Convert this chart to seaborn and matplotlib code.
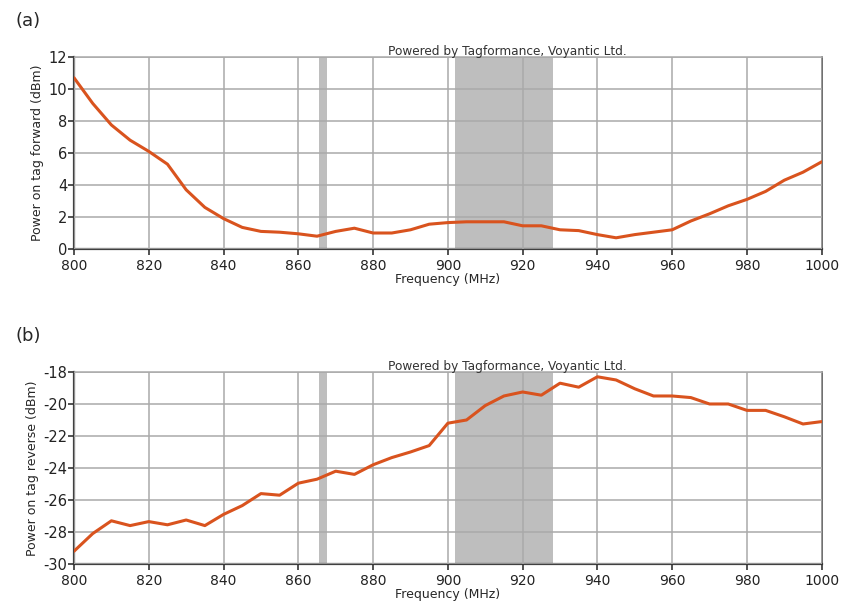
import numpy as np
import pandas as pd
import matplotlib
matplotlib.use("Agg")
import matplotlib.pyplot as plt
import seaborn as sns

# --- Data (5 MHz steps) ---
freq = list(range(800, 1001, 5))

forward = [10.7, 9.1, 7.75, 6.8, 6.1, 5.3, 3.7, 2.6, 1.9, 1.35,
           1.1, 1.05, 0.95, 0.8, 1.1, 1.3, 1.0, 1.0, 1.2, 1.55,
           1.65, 1.7, 1.7, 1.7, 1.45, 1.45, 1.2, 1.15, 0.9, 0.7,
           0.9, 1.05, 1.2, 1.75, 2.2, 2.7, 3.1, 3.6, 4.3, 4.8, 5.45]

reverse = [-29.2, -28.1, -27.3, -27.6, -27.35, -27.55, -27.25, -27.6, -26.9, -26.35,
           -25.6, -25.7, -24.95, -24.7, -24.2, -24.4, -23.8, -23.35, -23.0, -22.6,
           -21.2, -21.0, -20.1, -19.5, -19.25, -19.45, -18.7, -18.95, -18.3, -18.5,
           -19.05, -19.5, -19.5, -19.6, -20.0, -20.0, -20.4, -20.4, -20.8, -21.25, -21.1]

# regulatory bands shaded in grey (MHz)
bands = [(865.6, 867.6), (902, 928)]

df = pd.DataFrame({"freq": freq, "forward": forward, "reverse": reverse})

# --- Style ---
sns.set_style("white")
plt.rcParams['font.family'] = ['DejaVu Sans']
plt.rcParams['axes.unicode_minus'] = False
line_color = "#d9531e"
grid_color = "#aaaaaa"
band_color = "#bebebe"

fig = plt.figure(figsize=(8.42, 6.10), dpi=100)
ax_a = fig.add_axes([0.0879, 0.5918, 0.888, 0.3148])
ax_b = fig.add_axes([0.0879, 0.0754, 0.888, 0.3148])

panels = [
    (ax_a, "forward", "Power on tag forward (dBm)", (0, 12), "(a)"),
    (ax_b, "reverse", "Power on tag reverse (dBm)", (-30, -18), "(b)"),
]

for ax, col, ylabel, ylim, tag in panels:
    for lo, hi in bands:
        ax.axvspan(lo, hi, color=band_color, lw=0, zorder=0.5)
    sns.lineplot(data=df, x="freq", y=col, ax=ax, color=line_color, lw=2.2, zorder=3)
    ax.set_xlim(800, 1000)
    ax.set_ylim(*ylim)
    ax.set_xticks(range(800, 1001, 20))
    ax.set_yticks(range(ylim[0], ylim[1] + 1, 2))
    ax.grid(True, color=grid_color, lw=1.1, zorder=1)
    ax.set_axisbelow(False)
    for line in ax.get_xgridlines() + ax.get_ygridlines():
        line.set_zorder(1)
    ax.tick_params(axis="x", direction="out", length=4, width=1.2,
                   color="#333333", labelsize=10, labelcolor="#222222", pad=3, bottom=True)
    ax.tick_params(axis="y", direction="out", length=4, width=1.2,
                   color="#333333", labelsize=10.5, labelcolor="#222222", pad=1, left=True)
    ax.set_xlabel("Frequency (MHz)", fontsize=9, labelpad=0)
    ax.set_ylabel(ylabel, fontsize=9, labelpad=3)
    for side in ["left", "bottom"]:
        ax.spines[side].set_color("#404040")
        ax.spines[side].set_linewidth(1.6)
    ax.spines["right"].set_color("#555555")
    ax.spines["right"].set_linewidth(1.2)
    ax.spines["top"].set_color(grid_color)
    ax.spines["top"].set_linewidth(1.1)
    ax.text(0.58, 0.995, "Powered by Tagformance, Voyantic Ltd.", transform=ax.transAxes,
            ha="center", va="bottom", fontsize=8.7, color="#333333", zorder=5)
    ax.text(-0.078, 1.14, tag, transform=ax.transAxes, fontsize=13,
            ha="left", va="bottom")

fig.savefig("out.png", dpi=100)
